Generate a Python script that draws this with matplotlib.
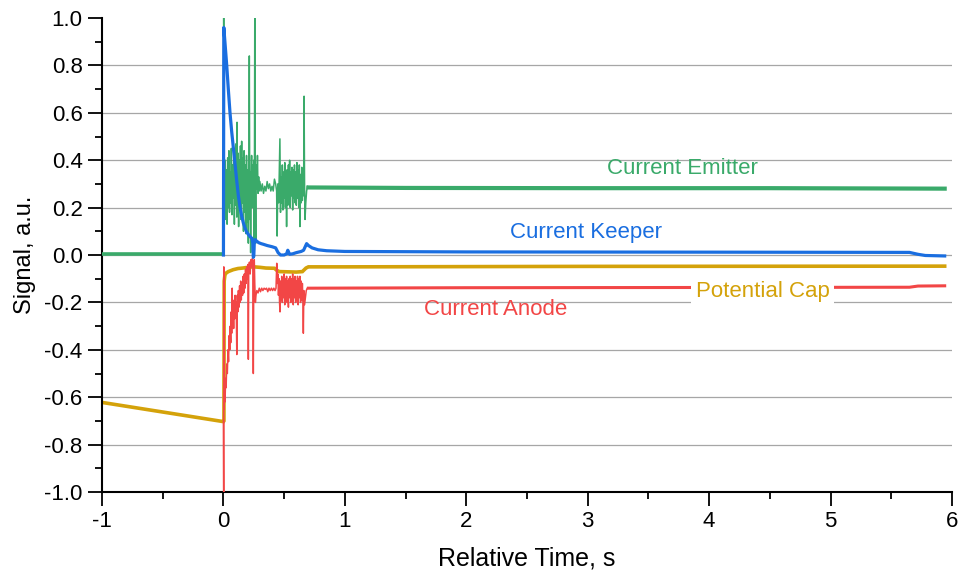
import matplotlib
matplotlib.use('Agg')
import matplotlib.pyplot as plt
from matplotlib.ticker import MultipleLocator

plt.rcParams['font.family'] = ['Liberation Sans', 'DejaVu Sans']
plt.rcParams['axes.unicode_minus'] = False

# colours of the four traces
c_emitter = '#3aaa6a'
c_keeper = '#1a6ee0'
c_cap = '#d4a20a'
c_anode = '#f24646'

# Current Emitter: flat before the start, burst 0..0.7 s, then flat
emitter_pre_t = [-1.0, -0.5, 0.0]
emitter_pre_v = [0.006, 0.006, 0.006]
emitter_burst_t = [
    0.000, 0.002, 0.005, 0.010, 0.015, 0.020, 0.025, 0.030, 0.035, 0.040,
    0.045, 0.050, 0.055, 0.060, 0.065, 0.070, 0.075, 0.080, 0.085, 0.090,
    0.095, 0.100, 0.105, 0.110, 0.112, 0.115, 0.120, 0.125, 0.130, 0.135,
    0.140, 0.145, 0.150, 0.155, 0.160, 0.165, 0.170, 0.175, 0.180, 0.185,
    0.190, 0.195, 0.200, 0.205, 0.210, 0.213, 0.217, 0.220, 0.224, 0.228,
    0.232, 0.236, 0.240, 0.245, 0.250, 0.254, 0.258, 0.262, 0.266, 0.270,
    0.275, 0.280, 0.285, 0.290, 0.295, 0.300, 0.310, 0.320, 0.330, 0.340,
    0.350, 0.360, 0.370, 0.380, 0.390, 0.400, 0.410, 0.420, 0.430, 0.438,
    0.442, 0.448, 0.455, 0.460, 0.465, 0.470, 0.475, 0.480, 0.485, 0.490,
    0.495, 0.500, 0.505, 0.510, 0.515, 0.520, 0.525, 0.530, 0.535, 0.540,
    0.545, 0.550, 0.555, 0.560, 0.565, 0.570, 0.575, 0.580, 0.585, 0.590,
    0.595, 0.600, 0.605, 0.610, 0.615, 0.620, 0.625, 0.630, 0.635, 0.640,
    0.645, 0.650, 0.655, 0.660, 0.664, 0.668, 0.672, 0.678, 0.685, 0.692,
    0.700]
emitter_burst_v = [
    0.006, 1.000, 0.420, 0.200, 0.400, 0.150, 0.360, 0.130, 0.410, 0.200,
    0.440, 0.180, 0.350, 0.220, 0.450, 0.170, 0.380, 0.240, 0.420, 0.130,
    0.390, 0.210, 0.470, 0.160, 0.560, 0.190, 0.430, 0.120, 0.400, 0.200,
    0.460, 0.150, 0.480, 0.220, 0.410, 0.100, 0.440, 0.180, 0.380, 0.090,
    0.420, 0.140, 0.360, 0.050, 0.400, 0.840, 0.150, 0.350, 0.010, 0.320,
    0.420, 0.200, 0.380, 0.250, 0.400, 0.020, 1.000, 0.300, 0.050, 0.380,
    0.280, 0.420, 0.260, 0.330, 0.270, 0.310, 0.270, 0.300, 0.260, 0.290,
    0.270, 0.310, 0.280, 0.300, 0.270, 0.290, 0.270, 0.320, 0.300, 0.270,
    0.080, 0.300, 0.220, 0.360, 0.490, 0.180, 0.330, 0.220, 0.380, 0.190,
    0.350, 0.240, 0.390, 0.200, 0.340, 0.120, 0.360, 0.210, 0.380, 0.230,
    0.400, 0.200, 0.350, 0.250, 0.370, 0.190, 0.360, 0.240, 0.380, 0.220,
    0.350, 0.210, 0.390, 0.240, 0.360, 0.200, 0.380, 0.120, 0.340, 0.220,
    0.370, 0.230, 0.350, 0.250, 0.670, 0.300, 0.150, 0.220, 0.270, 0.290,
    0.285]
emitter_post_t = [0.70, 1.5, 3.0, 4.5, 5.94]
emitter_post_v = [0.285, 0.283, 0.282, 0.282, 0.280]

# Current Keeper
keeper_t = [
    0.000, 0.003, 0.015, 0.027, 0.040, 0.054, 0.068, 0.082, 0.096, 0.110,
    0.123, 0.137, 0.150, 0.164, 0.177, 0.190, 0.205, 0.220, 0.235, 0.242,
    0.246, 0.250, 0.254, 0.262, 0.270, 0.290, 0.310, 0.330, 0.360, 0.400,
    0.430, 0.450, 0.470, 0.500, 0.520, 0.530, 0.545, 0.570, 0.600, 0.640,
    0.660, 0.685, 0.700, 0.730, 0.780, 0.850, 1.000, 2.000, 4.000, 5.650,
    5.720, 5.780, 5.940]
keeper_v = [
    0.000, 0.960, 0.880, 0.800, 0.700, 0.600, 0.520, 0.450, 0.380, 0.310,
    0.250, 0.200, 0.165, 0.135, 0.115, 0.098, 0.087, 0.077, 0.070, 0.050,
    -0.010, -0.005, 0.055, 0.065, 0.060, 0.052, 0.048, 0.045, 0.040, 0.035,
    0.030, 0.010, 0.000, 0.000, 0.005, 0.020, 0.003, 0.005, 0.010, 0.015,
    0.020, 0.048, 0.040, 0.030, 0.022, 0.018, 0.015, 0.013, 0.012, 0.011,
    0.003, -0.002, -0.004]

# Potential Cap
cap_t = [-1.0, 0.000, 0.004, 0.006, 0.012, 0.020, 0.040, 0.080, 0.120, 0.160,
         0.200, 0.250, 0.300, 0.350, 0.420, 0.440, 0.460, 0.600, 0.650, 0.680,
         0.700, 1.000, 3.000, 5.940]
cap_v = [-0.622, -0.703, -0.700, -0.110, -0.085, -0.077, -0.070, -0.062,
         -0.057, -0.055, -0.052, -0.050, -0.052, -0.055, -0.056, -0.065,
         -0.070, -0.072, -0.070, -0.055, -0.050, -0.050, -0.048, -0.047]

# Current Anode
anode_burst_t = [
    0.000, 0.002, 0.003, 0.005, 0.010, 0.013, 0.018, 0.022, 0.027, 0.032,
    0.037, 0.042, 0.047, 0.052, 0.056, 0.060, 0.064, 0.068, 0.072, 0.075,
    0.080, 0.084, 0.088, 0.092, 0.096, 0.100, 0.105, 0.110, 0.114, 0.118,
    0.123, 0.128, 0.133, 0.137, 0.142, 0.147, 0.152, 0.157, 0.162, 0.167,
    0.172, 0.177, 0.182, 0.187, 0.192, 0.197, 0.202, 0.205, 0.208, 0.214,
    0.220, 0.226, 0.232, 0.238, 0.242, 0.246, 0.250, 0.254, 0.258, 0.263,
    0.268, 0.275, 0.285, 0.295, 0.305, 0.315, 0.325, 0.335, 0.345, 0.355,
    0.365, 0.375, 0.385, 0.395, 0.405, 0.415, 0.425, 0.433, 0.439, 0.444,
    0.449, 0.453, 0.458, 0.462, 0.466, 0.470, 0.475, 0.480, 0.485, 0.490,
    0.495, 0.500, 0.505, 0.510, 0.515, 0.520, 0.525, 0.530, 0.535, 0.540,
    0.545, 0.550, 0.555, 0.560, 0.565, 0.570, 0.575, 0.580, 0.585, 0.590,
    0.595, 0.600, 0.605, 0.610, 0.615, 0.620, 0.625, 0.630, 0.635, 0.640,
    0.645, 0.650, 0.655, 0.658, 0.662, 0.668, 0.675, 0.682, 0.690, 0.700]
anode_burst_v = [
    -0.70, -1.00, -0.05, -0.65, -0.58, -0.62, -0.52, -0.56, -0.46, -0.50,
    -0.40, -0.45, -0.34, -0.40, -0.30, -0.37, -0.24, -0.33, -0.14, -0.30,
    -0.22, -0.31, -0.19, -0.27, -0.17, -0.25, -0.20, -0.42, -0.17, -0.24,
    -0.15, -0.22, -0.13, -0.20, -0.11, -0.19, -0.12, -0.17, -0.09, -0.16,
    -0.08, -0.14, -0.06, -0.12, -0.05, -0.10, -0.04, -0.44, -0.06, -0.03,
    -0.08, -0.02, -0.05, -0.015, -0.06, -0.50, -0.05, -0.02, -0.12, -0.20,
    -0.17, -0.15, -0.16, -0.14, -0.155, -0.14, -0.15, -0.14, -0.145, -0.14,
    -0.155, -0.14, -0.15, -0.14, -0.15, -0.14, -0.15, -0.14, -0.035, -0.12,
    -0.08, -0.17, -0.10, -0.20, -0.24, -0.11, -0.19, -0.09, -0.20, -0.10,
    -0.18, -0.08, -0.21, -0.10, -0.19, -0.09, -0.20, -0.11, -0.22, -0.10,
    -0.18, -0.09, -0.20, -0.10, -0.19, -0.08, -0.21, -0.10, -0.18, -0.09,
    -0.20, -0.11, -0.19, -0.09, -0.21, -0.10, -0.18, -0.09, -0.20, -0.11,
    -0.19, -0.12, -0.20, -0.33, -0.15, -0.21, -0.18, -0.15, -0.14, -0.14]
anode_post_t = [0.70, 2.0, 4.0, 5.65, 5.72, 5.94]
anode_post_v = [-0.140, -0.138, -0.137, -0.136, -0.131, -0.130]

# in-plot labels: (text, time, signal, colour)
trace_labels = [
    ('Current Emitter', 3.78, 0.367, c_emitter),
    ('Current Keeper', 2.99, 0.093, c_keeper),
    ('Potential Cap', 4.44, -0.152, c_cap),
    ('Current Anode', 2.245, -0.232, c_anode),
]

y_major = [-1.0, -0.8, -0.6, -0.4, -0.2, 0.0, 0.2, 0.4, 0.6, 0.8, 1.0]


def main():
    fig = plt.figure(figsize=(9.58, 5.77), dpi=100)
    ax = fig.add_axes([0.1065, 0.1473, 0.8872, 0.8215])

    # grid lines at inner major ticks
    for y in y_major[1:-1]:
        ax.axhline(y, color='#a6a6a6', lw=0.9, zorder=1)

    ax.plot(cap_t, cap_v, color=c_cap, lw=2.6, zorder=2, solid_joinstyle='miter')
    ax.plot(anode_burst_t, anode_burst_v, color=c_anode, lw=1.1, zorder=3)
    ax.plot(anode_post_t, anode_post_v, color=c_anode, lw=2.2, zorder=3)
    ax.plot(emitter_pre_t, emitter_pre_v, color=c_emitter, lw=2.6, zorder=4)
    ax.plot(emitter_burst_t, emitter_burst_v, color=c_emitter, lw=1.1, zorder=4)
    ax.plot(emitter_post_t, emitter_post_v, color=c_emitter, lw=3.0, zorder=4)
    ax.plot(keeper_t, keeper_v, color=c_keeper, lw=2.3, zorder=5)

    for text, tx, ty, col in trace_labels:
        kw = {}
        if text == 'Potential Cap':
            kw['bbox'] = dict(facecolor='white', edgecolor='none', pad=3)
        ax.text(tx, ty, text, color=col, fontsize=16, ha='center', va='center',
                zorder=6, **kw)

    ax.set_xlim(-1, 6)
    ax.set_ylim(-1, 1)
    ax.set_yticks(y_major)
    ax.set_yticklabels([f'{v:.1f}' for v in y_major])
    ax.xaxis.set_major_locator(MultipleLocator(1))
    ax.xaxis.set_minor_locator(MultipleLocator(0.5))
    ax.yaxis.set_minor_locator(MultipleLocator(0.1))
    ax.tick_params(which='major', direction='out', length=10, width=1.3,
                   labelsize=16, pad=4)
    ax.tick_params(which='minor', direction='out', length=5, width=1.3)

    for side in ('top', 'right'):
        ax.spines[side].set_visible(False)
    for side in ('left', 'bottom'):
        ax.spines[side].set_linewidth(1.5)

    ax.set_xlabel('Relative Time, s', fontsize=18, labelpad=10)
    ax.set_ylabel('Signal, a.u.', fontsize=17, labelpad=6)

    fig.savefig('out.png', dpi=100)
    plt.close(fig)


if __name__ == '__main__':
    main()
